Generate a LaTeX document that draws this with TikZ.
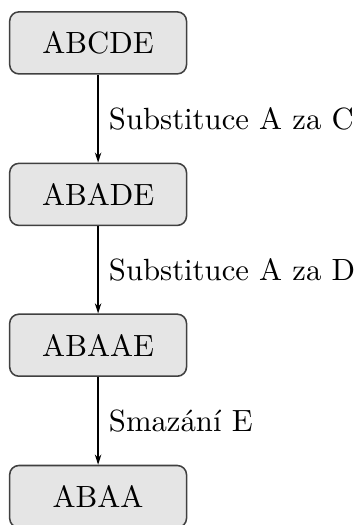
\documentclass[tikz,border=0pt]{standalone}
\usetikzlibrary{arrows.meta}
\begin{document}
\begin{tikzpicture}[x=0.3257pt, y=-0.3257pt,
  state/.style={draw=black!75, line width=0.5pt, fill=black!10,
    rounded corners=3pt, minimum width=57.6pt, minimum height=20.2pt,
    inner sep=0pt, font=\fontsize{10}{12}\selectfont},
  edgelabel/.style={right, font=\fontsize{10}{12}\selectfont},
  flow/.style={-{Stealth[length=3.3pt, width=2.1pt]}, line width=0.4pt}]
  \useasboundingbox (0,0) rectangle (358,525);
  \clip (0,0) rectangle (358,525);
  % the chain of words
  \node[state] (w1) at (98.1,42.9)  {ABCDE};
  \node[state] (w2) at (98.1,194.4) {ABADE};
  \node[state] (w3) at (98.1,345.2) {ABAAE};
  \node[state] (w4) at (98.1,496.5) {ABAA};
  % the edit operations
  \draw[flow] (w1) -- node[edgelabel] {Substituce A za C} (w2);
  \draw[flow] (w2) -- node[edgelabel] {Substituce A za D} (w3);
  \draw[flow] (w3) -- node[edgelabel] {Smazání E} (w4);
\end{tikzpicture}
\end{document}
